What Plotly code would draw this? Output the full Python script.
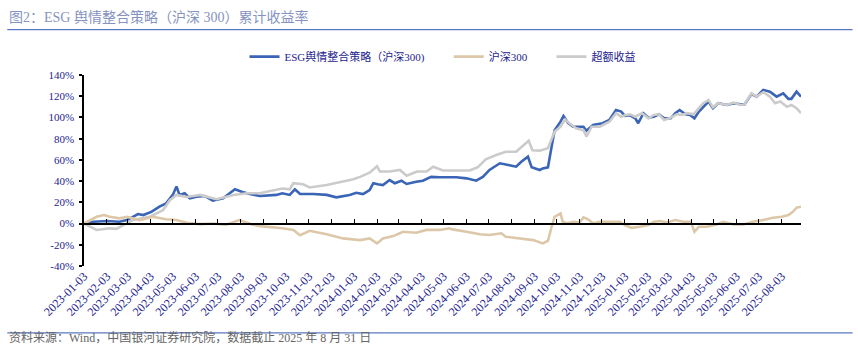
import plotly.graph_objects as go

# ESG 舆情整合策略（沪深300）累计收益率, %
esg_dates = [
    "2023-01-03", "2023-01-16", "2023-02-03", "2023-02-20", "2023-03-02", "2023-03-06",
    "2023-03-17", "2023-03-24", "2023-04-04", "2023-04-15", "2023-04-24", "2023-05-03",
    "2023-05-08", "2023-05-12", "2023-05-19", "2023-05-26", "2023-06-04", "2023-06-15",
    "2023-06-26", "2023-07-10", "2023-07-26", "2023-08-04", "2023-08-15", "2023-08-29",
    "2023-09-11", "2023-09-20", "2023-09-28", "2023-10-08", "2023-10-15", "2023-10-22",
    "2023-11-09", "2023-11-27", "2023-12-10", "2023-12-19", "2023-12-28", "2024-01-06",
    "2024-01-15", "2024-01-24", "2024-01-29", "2024-02-04", "2024-02-11", "2024-02-20",
    "2024-02-27", "2024-03-07", "2024-03-14", "2024-03-27", "2024-04-05", "2024-04-16",
    "2024-04-28", "2024-05-20", "2024-06-03", "2024-06-16", "2024-06-25", "2024-07-04",
    "2024-07-18", "2024-07-31", "2024-08-09", "2024-08-16", "2024-08-25", "2024-08-30",
    "2024-09-10", "2024-09-14", "2024-09-21", "2024-09-26", "2024-09-30", "2024-10-08",
    "2024-10-12", "2024-10-18", "2024-10-25", "2024-11-08", "2024-11-12", "2024-11-21",
    "2024-12-04", "2024-12-13", "2024-12-22", "2024-12-29", "2025-01-03", "2025-01-10",
    "2025-01-17", "2025-01-21", "2025-01-28", "2025-02-04", "2025-02-11", "2025-02-18",
    "2025-02-25", "2025-03-06", "2025-03-12", "2025-03-18", "2025-03-26", "2025-04-01",
    "2025-04-07", "2025-04-13", "2025-04-19", "2025-04-26", "2025-05-02", "2025-05-09",
    "2025-05-21", "2025-05-30", "2025-06-08", "2025-06-14", "2025-06-23", "2025-06-30",
    "2025-07-09", "2025-07-18", "2025-07-27", "2025-08-05", "2025-08-12", "2025-08-16",
    "2025-08-23", "2025-08-29",
]
esg_values = [
    0, 1.7, 2.4, 1.7, 3.3, 4.9,
    9, 8, 11, 16, 19, 27,
    35, 27, 28.5, 23.8, 25.3, 26,
    21.5, 23.8, 32.3, 30, 27.8, 26,
    27, 27, 28.5, 27, 32.3, 27.8,
    27.8, 27, 24.7, 25.5, 27, 29,
    27.8, 31.6, 38, 37, 36.3, 41,
    38, 40.4, 37.3, 39.4, 40.4, 44,
    43.6, 43.6, 42.6, 40.4, 44, 50.5,
    56.8, 55, 53.6, 58.3, 63, 53,
    50.5, 52, 53, 72.5, 88, 96,
    101.4, 95, 91.3, 91.3, 87.5, 93,
    94.5, 97.6, 107, 105.5, 101.5, 102,
    99.2, 94.5, 104, 99.8, 100.7, 103,
    99.2, 99.2, 104, 107, 103, 102.4,
    99.2, 105.5, 110, 115, 108.7, 113.4,
    111.8, 113.4, 112.5, 112.5, 122, 119.6,
    126, 124.3, 119.6, 122.8, 117.5, 117.5,
    124.3, 119.6,
]

# 沪深300 累计收益率, %
hs300_dates = [
    "2023-01-03", "2023-01-20", "2023-01-30", "2023-02-07", "2023-02-20", "2023-03-02",
    "2023-03-19", "2023-04-06", "2023-04-24", "2023-05-08", "2023-05-22", "2023-06-09",
    "2023-06-26", "2023-07-14", "2023-08-01", "2023-08-19", "2023-08-29", "2023-09-07",
    "2023-09-20", "2023-09-28", "2023-10-13", "2023-10-22", "2023-11-04", "2023-11-27",
    "2023-12-19", "2024-01-11", "2024-01-24", "2024-02-03", "2024-02-11", "2024-02-25",
    "2024-03-09", "2024-03-27", "2024-04-10", "2024-04-28", "2024-05-11", "2024-05-15",
    "2024-06-03", "2024-06-21", "2024-07-04", "2024-07-20", "2024-07-26", "2024-08-13",
    "2024-09-01", "2024-09-14", "2024-09-21", "2024-09-26", "2024-09-30", "2024-10-08",
    "2024-10-11", "2024-10-17", "2024-10-25", "2024-11-03", "2024-11-08", "2024-11-14",
    "2024-11-21", "2024-11-30", "2024-12-13", "2024-12-27", "2025-01-03", "2025-01-12",
    "2025-01-23", "2025-02-04", "2025-02-11", "2025-02-20", "2025-03-01", "2025-03-12",
    "2025-03-23", "2025-04-02", "2025-04-07", "2025-04-13", "2025-04-24", "2025-05-07",
    "2025-05-16", "2025-05-30", "2025-06-12", "2025-06-25", "2025-07-09", "2025-07-22",
    "2025-08-03", "2025-08-12", "2025-08-18", "2025-08-23", "2025-08-29",
]
hs300_values = [
    0, 6.4, 8, 6.4, 4.9, 6.4,
    3.3, 6.4, 4, 3.3, 0.8, -0.5,
    0, -1, 3.3, -1, -2.4, -3,
    -3.6, -4.5, -6, -11, -6.8, -10,
    -14, -15.6, -14, -18.7, -14, -11.8,
    -7.7, -8.6, -6, -6, -4.5, -5.5,
    -7.7, -10, -10.8, -9.2, -12.4, -14,
    -15.6, -18.7, -16.2, -3, 6.4, 9.6,
    1.7, 0.2, 1.7, 1, 5.8, 4,
    0.2, 1.7, 1.7, 1.7, -1.5, -4,
    -3, -1.4, 1.7, 2.4, 1, 3.3,
    1.7, 1.7, -7.7, -3, -3, -0.8,
    1.7, -0.8, -0.8, 1.7, 3.3, 5.5,
    6.4, 8, 11, 15, 15.8,
]

# 超额收益, %
excess_dates = [
    "2023-01-03", "2023-01-11", "2023-01-20", "2023-02-07", "2023-02-16", "2023-02-25",
    "2023-03-10", "2023-04-02", "2023-04-20", "2023-04-29", "2023-05-08", "2023-05-22",
    "2023-06-09", "2023-07-01", "2023-07-24", "2023-08-11", "2023-08-29", "2023-09-07",
    "2023-09-20", "2023-09-28", "2023-10-08", "2023-10-13", "2023-10-26", "2023-11-04",
    "2023-11-27", "2023-12-19", "2024-01-02", "2024-01-11", "2024-01-24", "2024-02-03",
    "2024-02-07", "2024-02-20", "2024-03-05", "2024-03-14", "2024-03-28", "2024-04-10",
    "2024-04-19", "2024-05-02", "2024-05-20", "2024-06-07", "2024-06-18", "2024-06-29",
    "2024-07-13", "2024-07-26", "2024-08-09", "2024-08-20", "2024-08-26", "2024-08-31",
    "2024-09-10", "2024-09-21", "2024-09-26", "2024-09-30", "2024-10-08", "2024-10-14",
    "2024-10-20", "2024-10-29", "2024-11-08", "2024-11-12", "2024-11-19", "2024-11-30",
    "2024-12-13", "2024-12-22", "2024-12-29", "2025-01-03", "2025-01-10", "2025-01-17",
    "2025-01-26", "2025-02-04", "2025-02-11", "2025-02-18", "2025-02-25", "2025-03-06",
    "2025-03-14", "2025-03-21", "2025-03-28", "2025-04-06", "2025-04-13", "2025-04-19",
    "2025-04-26", "2025-05-02", "2025-05-09", "2025-05-21", "2025-05-30", "2025-06-08",
    "2025-06-14", "2025-06-23", "2025-06-30", "2025-07-09", "2025-07-18", "2025-07-25",
    "2025-08-01", "2025-08-10", "2025-08-16", "2025-08-23", "2025-08-29",
]
excess_values = [
    0, -3, -6, -4.5, -5, -1.4,
    3.3, 6.4, 12.7, 22, 27, 25,
    27, 23, 27, 28.5, 28.5, 30,
    31.6, 33, 32.3, 38, 37, 34,
    36.3, 39.4, 41.7, 44, 48, 54,
    49, 49, 50.5, 45, 49, 49,
    53.6, 50, 50, 50, 53, 60.5,
    64.6, 67.7, 67.7, 74, 78, 69,
    68.7, 71, 80, 86.6, 91.3, 98,
    94.5, 89.8, 88, 82, 91.3, 91.3,
    96, 104, 100.7, 102, 103, 100.7,
    104, 99.2, 102.4, 103, 97.6, 99.8,
    103, 102.4, 104, 103, 108.7, 113.4,
    116.5, 109.5, 113.4, 111.8, 114, 111.8,
    112.5, 122.8, 119.6, 123.8, 119.6, 113.4,
    115, 110, 111.8, 108.7, 104,
]

# 横轴刻度：每月 3 日
tick_dates = [
    "2023-01-03", "2023-02-03", "2023-03-03", "2023-04-03", "2023-05-03", "2023-06-03",
    "2023-07-03", "2023-08-03", "2023-09-03", "2023-10-03", "2023-11-03", "2023-12-03",
    "2024-01-03", "2024-02-03", "2024-03-03", "2024-04-03", "2024-05-03", "2024-06-03",
    "2024-07-03", "2024-08-03", "2024-09-03", "2024-10-03", "2024-11-03", "2024-12-03",
    "2025-01-03", "2025-02-03", "2025-03-03", "2025-04-03", "2025-05-03", "2025-06-03",
    "2025-07-03", "2025-08-03",
]
y_ticks = [-40, -20, 0, 20, 40, 60, 80, 100, 120, 140]
y_tick_labels = [f"{v}%" for v in y_ticks]

x_range = ["2023-01-03", "2025-08-29"]
y_range = [-40, 140]

NAVY = "#23238f"
SERIF = "Liberation Serif, 'Times New Roman', 'Noto Sans CJK SC', serif"
PAD = "\u00a0" * 7  # spacing after each legend entry

fig = go.Figure()
fig.add_trace(go.Scatter(
    x=esg_dates, y=esg_values, mode="lines", name="ESG舆情整合策略（沪深300)" + PAD,
    line=dict(color="#3a64b5", width=2.6),
))
# 沪深300 sits on the overlay axis that carries the 0% baseline
fig.add_trace(go.Scatter(
    x=hs300_dates, y=hs300_values, mode="lines", name="沪深300" + PAD,
    line=dict(color="#dcc8a8", width=2.6), xaxis="x2",
))
fig.add_trace(go.Scatter(
    x=excess_dates, y=excess_values, mode="lines", name="超额收益",
    line=dict(color="#cbcbcb", width=2.6),
))

fig.update_layout(
    width=858, height=347,
    margin=dict(l=84, r=57, t=75, b=81),
    paper_bgcolor="white", plot_bgcolor="white",
    font=dict(family=SERIF, color=NAVY, size=11),
    showlegend=True,
    legend=dict(
        orientation="h", x=0.5, xanchor="center", y=1.096, yanchor="middle",
        font=dict(size=11, color=NAVY, family=SERIF),
        bgcolor="rgba(0,0,0,0)", itemwidth=30, tracegroupgap=0,
    ),
    xaxis=dict(
        type="date", range=x_range, tickvals=tick_dates, ticktext=tick_dates,
        tickangle=-45, tickfont=dict(size=12, color=NAVY, family=SERIF),
        showline=False, ticks="", showgrid=False, zeroline=False,
    ),
    xaxis2=dict(
        type="date", range=x_range, overlaying="x", anchor="free",
        position=(0 - y_range[0]) / (y_range[1] - y_range[0]),
        tickvals=tick_dates, showticklabels=False,
        showline=True, linecolor="black", linewidth=2,
        ticks="inside", ticklen=4, tickwidth=1, tickcolor="black",
        showgrid=False, zeroline=False,
    ),
    yaxis=dict(
        range=y_range, tickvals=y_ticks, ticktext=y_tick_labels,
        tickfont=dict(size=11, color=NAVY, family=SERIF),
        showline=True, linecolor="black", linewidth=1.5,
        ticks="outside", ticklen=3, tickwidth=1.5, tickcolor="black",
        ticklabelstandoff=3,
        showgrid=False, zeroline=False,
    ),
)

# 标题与上下分隔线
fig.add_annotation(
    text="图2：ESG 舆情整合策略（沪深 300）累计收益率",
    xref="paper", yref="paper", x=-0.107, y=1.306, xanchor="left", yanchor="middle",
    showarrow=False, font=dict(size=14, color="#8593c2", family=SERIF),
)
fig.add_shape(type="line", xref="paper", yref="paper", x0=-0.107, x1=1.072, y0=1.2375, y1=1.2375,
              line=dict(color="#5b78c2", width=1.2))
fig.add_shape(type="line", xref="paper", yref="paper", x0=-0.107, x1=1.072, y0=-0.35, y1=-0.35,
              line=dict(color="#5b78c2", width=1.2))
fig.add_annotation(
    text="资料来源：Wind，中国银河证券研究院，数据截止 2025 年 8 月 31 日",
    xref="paper", yref="paper", x=-0.107, y=-0.424, xanchor="left", yanchor="bottom",
    showarrow=False, font=dict(size=12, color="#666666", family=SERIF),
)

fig.write_html("out.html")
